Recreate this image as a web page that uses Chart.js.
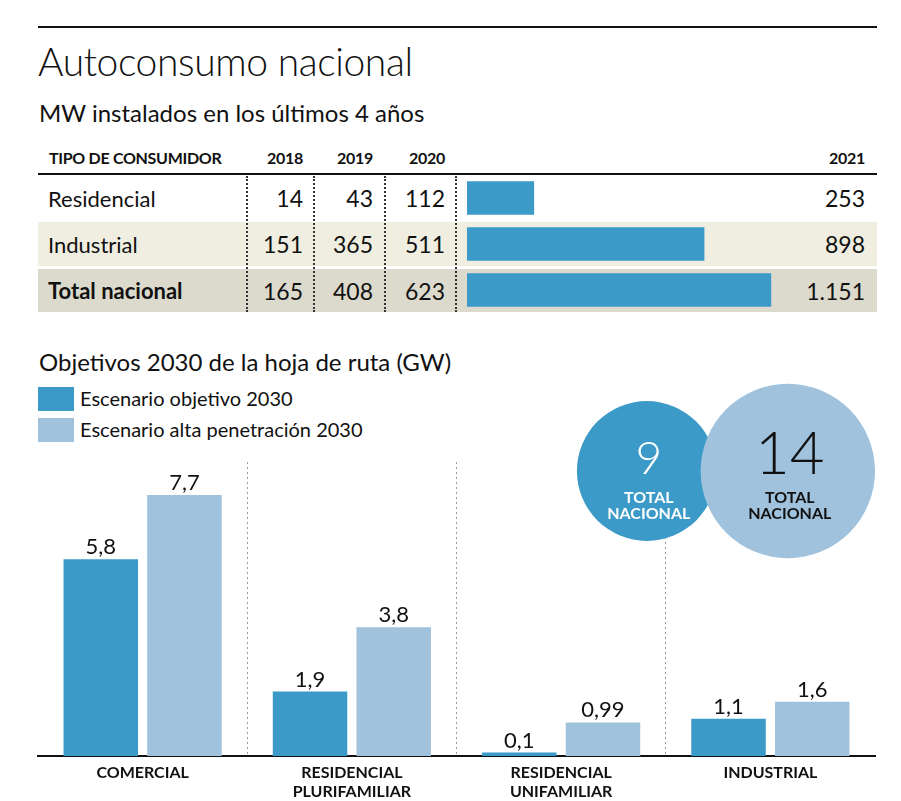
<!DOCTYPE html>
<html><head><meta charset="utf-8">
<script src="https://cdn.jsdelivr.net/npm/chart.js@4"></script>
<style>
body{margin:0;width:901px;height:801px;background:#fff;position:relative;overflow:hidden;font-family:Lato,"Noto Sans",sans-serif;color:#111}
.abs{position:absolute;white-space:nowrap}
.rule{position:absolute;background:#111}
.vdot{position:absolute;border-left:2px dotted #333;width:0}
.row{position:absolute;left:38px;width:839px}
.cell{position:absolute;display:flex;align-items:center;height:100%;font-size:23px}
.hdr{position:absolute;top:148px;font-size:16px;font-weight:700;letter-spacing:-0.3px}
canvas{position:absolute}
</style>
</head><body>
<div class="rule" style="left:38px;top:26px;width:839px;height:2px"></div>
<div class="abs" style="left:38px;top:38px;font-size:39px;font-weight:300;letter-spacing:-0.4px">Autoconsumo nacional</div>
<div class="abs" style="left:39px;top:98px;font-size:24px">MW instalados en los últimos 4 años</div>

<div id="table"></div>
<canvas id="bar2021" width="396" height="138" style="left:467px;top:175px"></canvas>

<div class="abs" style="left:39px;top:347px;font-size:24px">Objetivos 2030 de la hoja de ruta (GW)</div>
<div id="legend"></div>

<canvas id="goals" width="901" height="431" style="left:0;top:370px"></canvas>

<script>
// ---- Data ----
const tableRows = ['Residencial', 'Industrial', 'Total nacional'];
const tableYears = ['2018', '2019', '2020', '2021'];
const v2018 = [14, 151, 165];
const v2019 = [43, 365, 408];
const v2020 = [112, 511, 623];
const v2021 = [253, 898, 1151];
const v2021Labels = ['253', '898', '1.151'];

const categories = [['COMERCIAL'], ['RESIDENCIAL', 'PLURIFAMILIAR'], ['RESIDENCIAL', 'UNIFAMILIAR'], ['INDUSTRIAL']];
const seriesNames = ['Escenario objetivo 2030', 'Escenario alta penetración 2030'];
const objetivo2030 = [5.8, 1.9, 0.1, 1.1];
const altaPenetracion2030 = [7.7, 3.8, 0.99, 1.6];
const totals = [9, 14];
const totalLabel = ['TOTAL', 'NACIONAL'];

// ---- Styles ----
const DARK = '#3b9ac7';
const LIGHT = '#a0c2dc';

// ---- Table ----
const table = document.getElementById('table');
const rowTops = [176, 222, 269];
const rowHeights = [44, 44, 43];
const rowBgs = ['#ffffff', '#efeee0', '#dcdacd'];
const colRights = [303, 373, 445];
const yearCols = [v2018, v2019, v2020];
let html = '';
html += '<div class="hdr" style="left:49px">TIPO DE CONSUMIDOR</div>';
tableYears.slice(0, 3).forEach((y, i) => {
  html += `<div class="hdr" style="right:${901 - colRights[i]}px">${y}</div>`;
});
html += `<div class="hdr" style="right:${901 - 865}px">${tableYears[3]}</div>`;
html += '<div class="rule" style="left:38px;top:173px;width:839px;height:2px"></div>';
tableRows.forEach((name, r) => {
  html += `<div class="row" style="top:${rowTops[r]}px;height:${rowHeights[r]}px;background:${rowBgs[r]}">`;
  html += `<div class="cell" style="left:10px;font-size:22px;${r === 2 ? 'font-weight:700;' : ''}">${name}</div>`;
  yearCols.forEach((col, c) => {
    html += `<div class="cell" style="right:${877 - colRights[c]}px">${col[r]}</div>`;
  });
  html += `<div class="cell" style="right:${877 - 865}px">${v2021Labels[r]}</div>`;
  html += '</div>';
});
[247, 314, 385, 456].forEach(x => {
  html += `<div class="vdot" style="left:${x - 1}px;top:176px;height:136px"></div>`;
});
table.innerHTML = html;

// ---- Legend ----
const legend = document.getElementById('legend');
legend.innerHTML = seriesNames.map((n, i) =>
  `<div class="abs" style="left:38px;top:${387 + i * 31}px;width:36px;height:24px;background:${i ? LIGHT : DARK}"></div>` +
  `<div class="abs" style="left:80px;top:${385 + i * 31}px;font-size:20px;line-height:26px">${n}</div>`
).join('');

// ---- 2021 bars ----
new Chart(document.getElementById('bar2021'), {
  type: 'bar',
  data: {
    labels: tableRows,
    datasets: [{ data: v2021, backgroundColor: DARK, barThickness: 33 }]
  },
  options: {
    indexAxis: 'y',
    responsive: false,
    animation: false,
    layout: { padding: 0 },
    plugins: { legend: { display: false }, tooltip: { enabled: false } },
    scales: {
      x: { display: false, min: 0, max: 1500 },
      y: { display: false }
    }
  }
});

// ---- Goals chart ----
const valueLabels = {
  id: 'valueLabels',
  afterDatasetsDraw(chart) {
    const ctx = chart.ctx;
    chart.data.datasets.forEach((ds, di) => {
      const meta = chart.getDatasetMeta(di);
      meta.data.forEach((bar, i) => {
        ctx.save();
        ctx.font = '22px Lato';
        ctx.fillStyle = '#111';
        ctx.textAlign = 'center';
        ctx.textBaseline = 'alphabetic';
        ctx.fillText(String(ds.data[i]).replace('.', ','), bar.x, bar.y - 5);
        ctx.restore();
      });
    });
  }
};

const totalCircles = {
  id: 'totalCircles',
  afterDraw(chart) {
    const ctx = chart.ctx;
    const a = chart.chartArea;
    const k = 23.3;
    const r0 = k * Math.sqrt(totals[0]);
    const r1 = k * Math.sqrt(totals[1]);
    const cy = a.top + 9;
    const cx1 = a.right - r1;
    const cx0 = cx1 - 141;
    const items = [
      { cx: cx0, r: r0, fill: DARK, text: '#fff', big: 46, val: totals[0] },
      { cx: cx1, r: r1, fill: LIGHT, text: '#111', big: 60, val: totals[1] }
    ];
    items.forEach(it => {
      ctx.save();
      ctx.beginPath();
      ctx.arc(it.cx, cy, it.r, 0, Math.PI * 2);
      ctx.fillStyle = it.fill;
      ctx.fill();
      ctx.fillStyle = it.text;
      ctx.textAlign = 'center';
      ctx.textBaseline = 'alphabetic';
      ctx.font = `300 ${it.big}px Lato`;
      ctx.fillText(String(it.val), it.cx + 2, cy + 3);
      ctx.font = 'bold 16px Lato';
      ctx.fillText(totalLabel[0], it.cx + 2, cy + 32);
      ctx.fillText(totalLabel[1], it.cx + 2, cy + 48);
      ctx.restore();
    });
  }
};

new Chart(document.getElementById('goals'), {
  type: 'bar',
  data: {
    labels: categories,
    datasets: [
      { label: seriesNames[0], data: objetivo2030, backgroundColor: DARK },
      { label: seriesNames[1], data: altaPenetracion2030, backgroundColor: LIGHT }
    ]
  },
  options: {
    responsive: false,
    animation: false,
    layout: { padding: { left: 38, right: 26, top: 92, bottom: 0 } },
    datasets: { bar: { categoryPercentage: 0.8, barPercentage: 0.89 } },
    plugins: { legend: { display: false }, tooltip: { enabled: false } },
    scales: {
      x: {
        afterFit(scale) { scale.height = 45; },
        grid: {
          offset: true,
          drawTicks: false,
          lineWidth: 1,
          color: (c) => (c.index > 0 && c.index < categories.length) ? '#9a9a9a' : 'rgba(0,0,0,0)'
        },
        border: { display: true, color: '#111', width: 2, dash: [2, 3] },
        ticks: {
          padding: 8,
          color: '#111',
          font: { family: 'Lato', size: 16, weight: 'bold', lineHeight: 1.15 }
        }
      },
      y: { display: false, min: 0, max: 8.67 }
    }
  },
  plugins: [valueLabels, totalCircles]
});
</script>
</body></html>
